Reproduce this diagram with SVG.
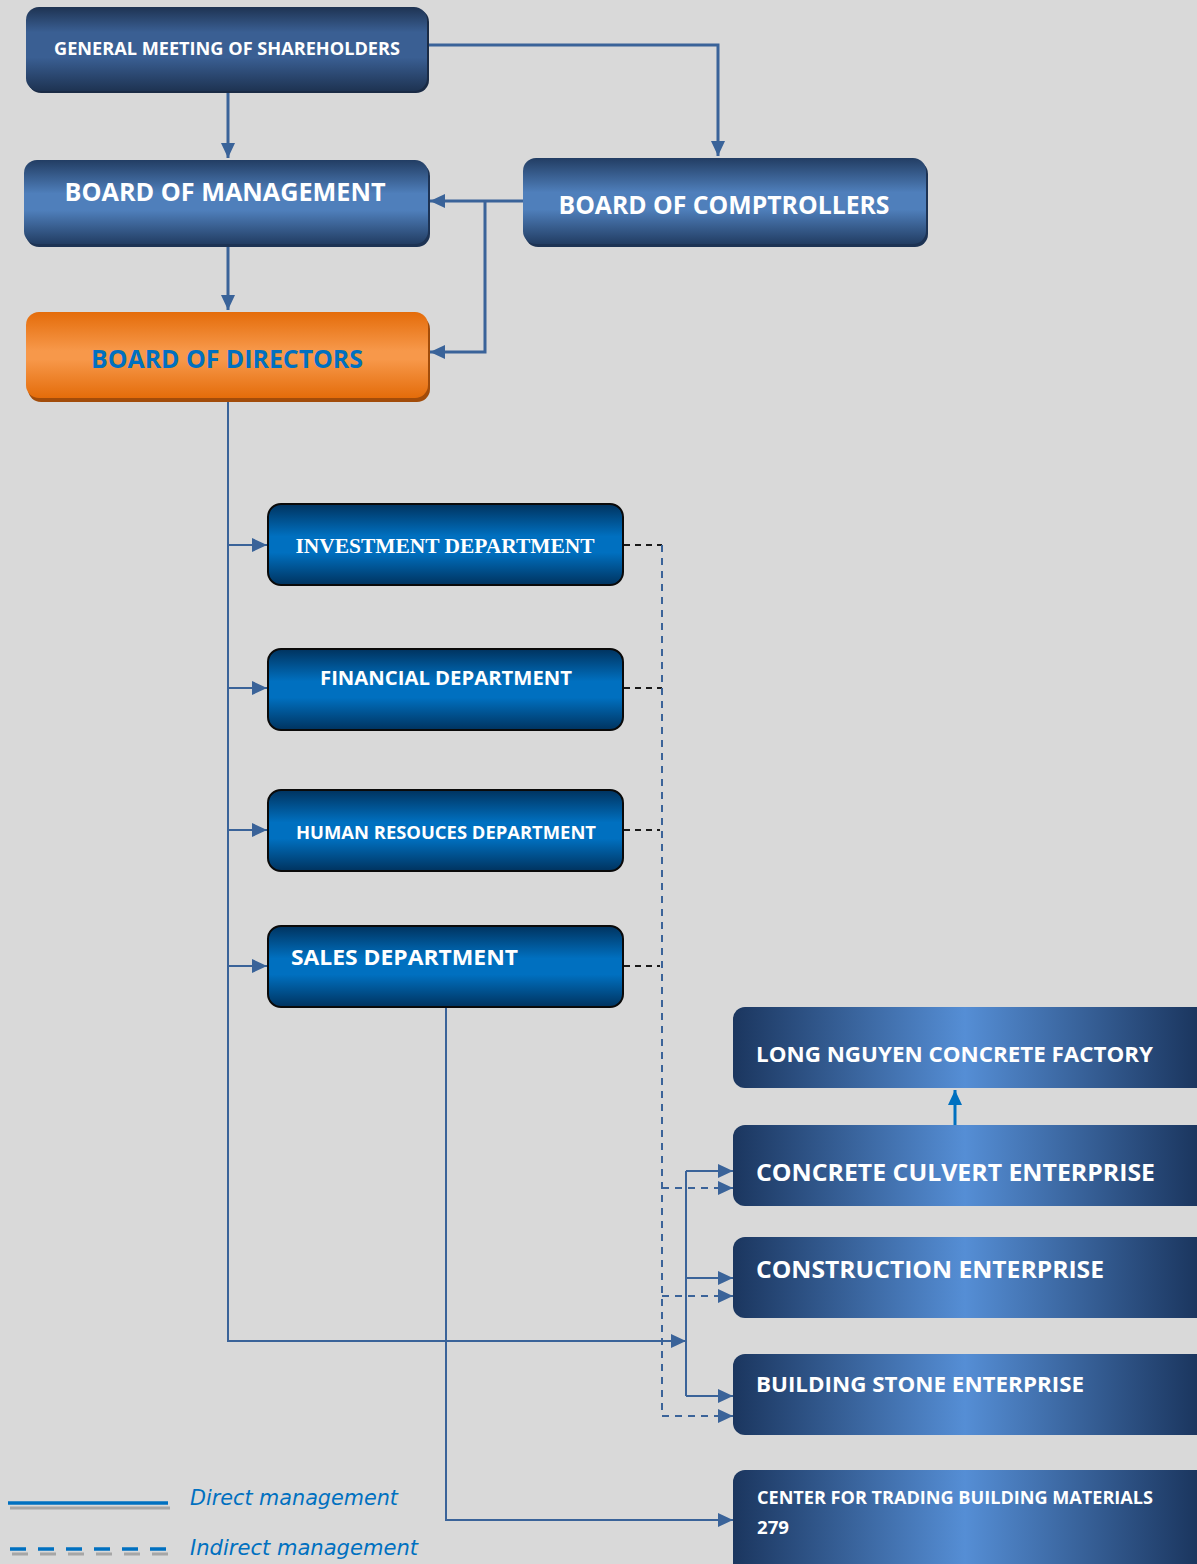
<svg xmlns="http://www.w3.org/2000/svg" width="1197" height="1564" viewBox="0 0 1197 1564">
<defs>
<linearGradient id="gNavy" x1="0" y1="0" x2="0" y2="1">
<stop offset="0" stop-color="#1e3352"/><stop offset="0.3" stop-color="#3a5f93"/><stop offset="0.6" stop-color="#3a5f93"/><stop offset="1" stop-color="#1e3352"/>
</linearGradient>
<linearGradient id="gMid" x1="0" y1="0" x2="0" y2="1">
<stop offset="0" stop-color="#223d63"/><stop offset="0.4" stop-color="#4f7fbb"/><stop offset="0.6" stop-color="#4f7fbb"/><stop offset="1" stop-color="#223d63"/>
</linearGradient>
<linearGradient id="gOrange" x1="0" y1="0" x2="0" y2="1">
<stop offset="0" stop-color="#e46c0a"/><stop offset="0.45" stop-color="#f7984a"/><stop offset="0.55" stop-color="#f7984a"/><stop offset="1" stop-color="#e46c0a"/>
</linearGradient>
<linearGradient id="gDept" x1="0" y1="0" x2="0" y2="1">
<stop offset="0" stop-color="#00335f"/><stop offset="0.4" stop-color="#0070c0"/><stop offset="0.6" stop-color="#0070c0"/><stop offset="1" stop-color="#00335f"/>
</linearGradient>
<linearGradient id="gEnt" gradientUnits="userSpaceOnUse" x1="733" y1="0" x2="1197" y2="0">
<stop offset="0" stop-color="#1b365f"/><stop offset="0.5" stop-color="#558ed5"/><stop offset="1" stop-color="#1b365f"/>
</linearGradient>
<marker id="ah" markerUnits="userSpaceOnUse" markerWidth="16" markerHeight="14" refX="15" refY="7" orient="auto">
<path d="M0,0 L15,7 L0,14 Z" fill="#3a6399"/>
</marker>
<marker id="ahb" markerUnits="userSpaceOnUse" markerWidth="16" markerHeight="14" refX="15" refY="7" orient="auto">
<path d="M0,0 L15,7 L0,14 Z" fill="#0070c0"/>
</marker>
</defs>
<style>
.lbl{font-family:"Open Sans","Liberation Sans",sans-serif;font-weight:700;fill:#ffffff}
.ser{font-family:"Liberation Serif","DejaVu Serif",serif;font-weight:700;fill:#ffffff}
.c{fill:none;stroke:#3a6399}
.thick{stroke-width:3}
.thin{stroke-width:2}
.dash{stroke-dasharray:7,6;stroke-width:2}
.blk{fill:none;stroke:#1a1a1a;stroke-width:2;stroke-dasharray:6,5}
.dept{fill:url(#gDept);stroke:#0a0a0a;stroke-width:2}
.ent{fill:url(#gEnt)}
.leg{font-family:"DejaVu Sans","Liberation Sans",sans-serif;font-style:italic;fill:#0070c0;font-size:22px}
</style>
<rect width="1197" height="1564" fill="#d9d9d9"/>

<g id="connectors">
<path class="c thick" d="M228,91 V158" marker-end="url(#ah)"/>
<path class="c thick" d="M427,45 H718 V156" marker-end="url(#ah)"/>
<path class="c thick" d="M523,201 H430" marker-end="url(#ah)"/>
<path class="c thick" d="M485,201 V352 H430" marker-end="url(#ah)"/>
<path class="c thick" d="M228,244 V310" marker-end="url(#ah)"/>
<path class="c thin" d="M228,400 V1341 H686" marker-end="url(#ah)"/>
<path class="c thin" d="M228,545 H267" marker-end="url(#ah)"/>
<path class="c thin" d="M228,688 H267" marker-end="url(#ah)"/>
<path class="c thin" d="M228,830 H267" marker-end="url(#ah)"/>
<path class="c thin" d="M228,966 H267" marker-end="url(#ah)"/>
<path class="blk" d="M624,545 H662"/>
<path class="blk" d="M624,688 H662"/>
<path class="blk" d="M624,830 H660"/>
<path class="blk" d="M624,966 H660"/>
<path class="c dash" d="M662,545 V1416"/>
<path class="c dash" d="M662,1188 H733" marker-end="url(#ah)"/>
<path class="c dash" d="M662,1296 H733" marker-end="url(#ah)"/>
<path class="c dash" d="M662,1416 H733" marker-end="url(#ah)"/>
<path class="c thin" d="M686,1171 V1396"/>
<path class="c thin" d="M686,1171 H733" marker-end="url(#ah)"/>
<path class="c thin" d="M686,1278 H733" marker-end="url(#ah)"/>
<path class="c thin" d="M686,1396 H733" marker-end="url(#ah)"/>
<path class="c thin" d="M446,1008 V1520 H733" marker-end="url(#ah)"/>
<path fill="none" stroke="#0070c0" stroke-width="3" d="M955,1125 V1090" marker-end="url(#ahb)"/>
</g>

<g id="gms">
<rect x="28" y="9" width="401" height="84" rx="13" fill="#1a2b45"/>
<rect x="26" y="7" width="401" height="84" rx="13" fill="url(#gNavy)"/>
<text class="lbl" x="227" y="55" font-size="17" text-anchor="middle" textLength="346" lengthAdjust="spacingAndGlyphs">GENERAL MEETING OF SHAREHOLDERS</text>
</g>

<g id="bom">
<rect x="26" y="163" width="404" height="84" rx="13" fill="#1d3354"/>
<rect x="24" y="160" width="404" height="84" rx="13" fill="url(#gMid)"/>
<text class="lbl" x="225" y="201" font-size="25" text-anchor="middle" textLength="321" lengthAdjust="spacingAndGlyphs">BOARD OF MANAGEMENT</text>
</g>

<g id="boc">
<rect x="525" y="161" width="403" height="86" rx="13" fill="#1d3354"/>
<rect x="523" y="158" width="403" height="86" rx="13" fill="url(#gMid)"/>
<text class="lbl" x="724" y="214" font-size="25" text-anchor="middle" textLength="331" lengthAdjust="spacingAndGlyphs">BOARD OF COMPTROLLERS</text>
</g>

<g id="bod">
<rect x="28" y="316" width="402" height="86" rx="13" fill="#a24c0a"/>
<rect x="26" y="312" width="402" height="86" rx="13" fill="url(#gOrange)"/>
<text x="227" y="368" font-size="25" text-anchor="middle" textLength="272" lengthAdjust="spacingAndGlyphs" style="font-family:'Open Sans','Liberation Sans',sans-serif;font-weight:700;fill:#0070c0">BOARD OF DIRECTORS</text>
</g>

<g id="investment">
<rect class="dept" x="268" y="504" width="355" height="81" rx="13"/>
<text class="ser" x="445" y="553" font-size="20" text-anchor="middle" textLength="299" lengthAdjust="spacingAndGlyphs">INVESTMENT DEPARTMENT</text>
</g>

<g id="financial">
<rect class="dept" x="268" y="649" width="355" height="81" rx="13"/>
<text class="lbl" x="446" y="685" font-size="19" text-anchor="middle" textLength="252" lengthAdjust="spacingAndGlyphs">FINANCIAL DEPARTMENT</text>
</g>

<g id="hr">
<rect class="dept" x="268" y="790" width="355" height="81" rx="13"/>
<text class="lbl" x="446" y="839" font-size="17" text-anchor="middle" textLength="300" lengthAdjust="spacingAndGlyphs">HUMAN RESOUCES DEPARTMENT</text>
</g>

<g id="sales">
<rect class="dept" x="268" y="926" width="355" height="81" rx="13"/>
<text class="lbl" x="291" y="965" font-size="22" textLength="227" lengthAdjust="spacingAndGlyphs">SALES DEPARTMENT</text>
</g>

<g id="longnguyen">
<rect class="ent" x="733" y="1007" width="480" height="81" rx="12"/>
<text class="lbl" x="756" y="1062" font-size="22" textLength="397" lengthAdjust="spacingAndGlyphs">LONG NGUYEN CONCRETE FACTORY</text>
</g>

<g id="culvert">
<rect class="ent" x="733" y="1125" width="480" height="81" rx="12"/>
<text class="lbl" x="756" y="1181" font-size="23" textLength="399" lengthAdjust="spacingAndGlyphs">CONCRETE CULVERT ENTERPRISE</text>
</g>

<g id="construction">
<rect class="ent" x="733" y="1237" width="480" height="81" rx="12"/>
<text class="lbl" x="756" y="1278" font-size="23" textLength="348" lengthAdjust="spacingAndGlyphs">CONSTRUCTION ENTERPRISE</text>
</g>

<g id="stone">
<rect class="ent" x="733" y="1354" width="480" height="81" rx="12"/>
<text class="lbl" x="756" y="1392" font-size="21" textLength="328" lengthAdjust="spacingAndGlyphs">BUILDING STONE ENTERPRISE</text>
</g>

<g id="center">
<rect class="ent" x="733" y="1470" width="480" height="110" rx="12"/>
<text class="lbl" x="757" y="1504" font-size="17" textLength="396" lengthAdjust="spacingAndGlyphs">CENTER FOR TRADING BUILDING MATERIALS</text>
<text class="lbl" x="757" y="1534" font-size="17" textLength="32" lengthAdjust="spacingAndGlyphs">279</text>
</g>

<g id="legend">
<line x1="10" y1="1508" x2="170" y2="1508" stroke="#a6a6a6" stroke-width="3"/>
<line x1="8" y1="1503" x2="168" y2="1503" stroke="#0070c0" stroke-width="3.5"/>
<text class="leg" x="190" y="1505" textLength="208" lengthAdjust="spacingAndGlyphs">Direct management</text>
<line x1="12" y1="1554" x2="170" y2="1554" stroke="#a6a6a6" stroke-width="3" stroke-dasharray="16,12"/>
<line x1="10" y1="1549" x2="168" y2="1549" stroke="#0070c0" stroke-width="3.5" stroke-dasharray="16,12"/>
<text class="leg" x="190" y="1555" textLength="228" lengthAdjust="spacingAndGlyphs">Indirect management</text>
</g>
</svg>
